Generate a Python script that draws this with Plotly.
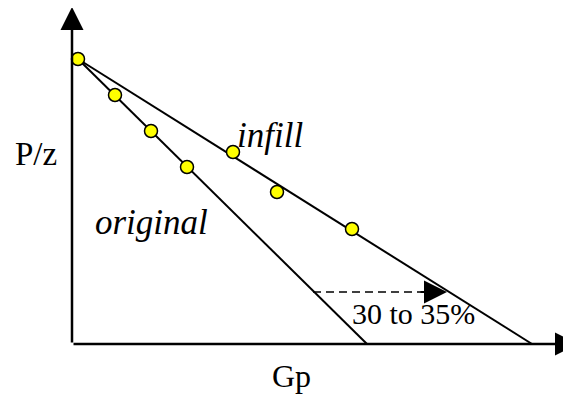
import plotly.graph_objects as go

# chart units: Gp across, P/z up (origin at the axes corner)
start_gp = [0.6]
start_pz = [28.5]

original_gp = [4.3, 7.9, 11.5]
original_pz = [24.9, 21.3, 17.7]
original_end_gp = 29.5

infill_gp = [16.1, 20.5, 28.0]
infill_pz = [19.2, 15.2, 11.5]
infill_end_gp = 46.0

# dashed arrow showing the extra recovery
gain_pz = 5.2
gain_from_gp = 24.1
gain_to_gp = 37.5

axis_gp_max = 50.6
axis_pz_max = 33.7

serif = "Liberation Serif, Times New Roman, serif"

fig = go.Figure()

# straight-line extrapolations
fig.add_trace(go.Scatter(
    x=[start_gp[0], original_end_gp], y=[start_pz[0], 0],
    mode="lines", line=dict(color="black", width=2), hoverinfo="skip"))
fig.add_trace(go.Scatter(
    x=[start_gp[0], infill_end_gp], y=[start_pz[0], 0],
    mode="lines", line=dict(color="black", width=2), hoverinfo="skip"))

# dashed gain line
fig.add_trace(go.Scatter(
    x=[gain_from_gp, gain_to_gp - 2.5], y=[gain_pz, gain_pz],
    mode="lines", line=dict(color="black", width=1.5, dash="8px,5px"),
    hoverinfo="skip"))

# data points
fig.add_trace(go.Scatter(
    x=start_gp + original_gp + infill_gp,
    y=start_pz + original_pz + infill_pz,
    mode="markers",
    marker=dict(size=13, color="#FFFF00", line=dict(color="black", width=1.5))))

arrows = [
    # (tip x, tip y, tail x, tail y, line width)
    (0, axis_pz_max, 0, 0, 2.5),
    (axis_gp_max, 0, 0, 0, 2.5),
    (gain_to_gp, gain_pz, gain_to_gp - 2.8, gain_pz, 2),
]
for tx, ty, sx, sy, w in arrows:
    fig.add_annotation(
        x=tx, y=ty, ax=sx, ay=sy, xref="x", yref="y", axref="x", ayref="y",
        text="", showarrow=True, arrowhead=2, arrowsize=4.6 / w,
        arrowwidth=w, arrowcolor="black", standoff=0, startstandoff=0)

labels = [
    ("P/z", -3.6, 19.0, False, 33),
    ("Gp", 21.9, -3.2, False, 32),
    ("original", 7.9, 12.2, True, 35),
    ("infill", 19.8, 20.9, True, 35),
    ("30 to 35%", 34.1, 3.1, False, 30),
]
for txt, lx, ly, it, sz in labels:
    fig.add_annotation(
        x=lx, y=ly, xref="x", yref="y", showarrow=False,
        text="<i>%s</i>" % txt if it else txt,
        font=dict(family=serif, size=sz, color="black"))

# the page body has an 8px margin, so the figure is 8px smaller
fig.update_layout(
    width=563, height=386,
    margin=dict(l=0, r=0, t=0, b=0),
    paper_bgcolor="white", plot_bgcolor="white",
    showlegend=False,
    xaxis=dict(range=[-6.4, 49.9], visible=False, fixedrange=True),
    yaxis=dict(range=[-5.0, 33.6], visible=False, fixedrange=True),
)

fig.write_html("out.html")
